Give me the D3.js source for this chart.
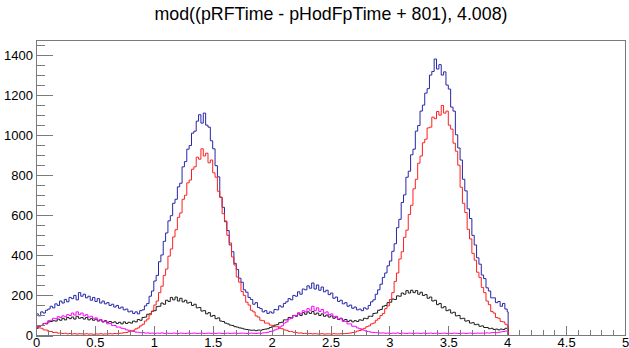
<!DOCTYPE html>
<html>
<head>
<meta charset="utf-8">
<script src="https://cdn.jsdelivr.net/npm/d3@7"></script>
<style>
  html, body { margin: 0; padding: 0; background: #fff; }
  svg { display: block; }
  text { font-family: "Liberation Sans", Arial, Helvetica, sans-serif; }
</style>
</head>
<body>
<div id="chart"></div>
<script>
// ---- data (bin width 0.02, first bin starts at 0; last bin 4.00–4.008) ----
const titleText = "mod((pRFTime - pHodFpTime + 801), 4.008)";
const binWidth = 0.02;
const histEnd = 4.008;
const xTickLabels = ["0", "0.5", "1", "1.5", "2", "2.5", "3", "3.5", "4", "4.5", "5"];
const yTickLabels = ["0", "200", "400", "600", "800", "1000", "1200", "1400"];

const blueCounts = [
  108, 98, 118, 112, 126, 132, 146, 138, 158, 150,
  172, 162, 180, 168, 190, 184, 200, 178, 214, 196,
  206, 188, 196, 176, 190, 170, 184, 162, 172, 158,
  164, 150, 156, 142, 150, 136, 142, 128, 132, 118,
  122, 110, 118, 108, 124, 128, 148, 160, 196, 222,
  272, 300, 368, 402, 470, 512, 572, 598, 660, 680,
  742, 760, 842, 868, 930, 948, 1010, 1020, 1070, 1102,
  1060, 1110, 1050, 1040, 972, 932, 848, 792, 690, 640,
  568, 524, 452, 418, 360, 330, 286, 266, 228, 216,
  190, 180, 156, 164, 140, 134, 118, 124, 110, 118,
  112, 130, 128, 148, 142, 160, 168, 184, 178, 200,
  196, 218, 206, 232, 228, 248, 236, 262, 232, 252,
  226, 242, 218, 226, 204, 212, 186, 192, 170, 176,
  158, 164, 146, 152, 136, 142, 128, 132, 124, 138,
  132, 150, 168, 178, 206, 228, 256, 290, 312, 348,
  372, 420, 458, 538, 580, 664, 702, 790, 820, 902,
  930, 1020, 1048, 1120, 1150, 1210, 1232, 1300, 1318, 1380,
  1330, 1352, 1300, 1316, 1250, 1230, 1140, 1120, 1002, 936,
  876, 780, 722, 632, 584, 500, 452, 388, 356, 302,
  284, 238, 222, 188, 188, 164, 170, 146, 160, 132,
  118
];

const redCounts = [
  44, 38, 36, 28, 27, 21, 20, 15, 16, 12,
  12, 10, 11, 8, 10, 8, 9, 7, 9, 8,
  7, 9, 7, 8, 6, 8, 7, 9, 7, 8,
  8, 9, 8, 10, 9, 11, 12, 14, 15, 19,
  23, 26, 33, 38, 48, 56, 72, 82, 104, 120,
  152, 172, 214, 246, 300, 332, 396, 432, 492, 528,
  590, 612, 680, 700, 762, 776, 830, 842, 890, 880,
  932, 896, 910, 862, 876, 812, 790, 720, 690, 608,
  572, 500, 462, 392, 352, 292, 266, 220, 200, 166,
  152, 126, 118, 98, 92, 76, 74, 62, 62, 52,
  50, 44, 44, 36, 34, 28, 26, 20, 20, 16,
  15, 12, 13, 10, 11, 9, 10, 8, 9, 8,
  8, 9, 7, 8, 8, 7, 9, 8, 8, 9,
  9, 10, 11, 12, 15, 17, 22, 25, 32, 36,
  44, 48, 58, 62, 76, 84, 100, 110, 134, 148,
  180, 214, 270, 312, 382, 418, 490, 526, 604, 650,
  732, 780, 860, 896, 962, 980, 1036, 1040, 1090, 1082,
  1118, 1100, 1148, 1110, 1120, 1050, 1030, 960, 920, 850,
  740, 660, 614, 530, 482, 410, 376, 316, 290, 240,
  214, 172, 154, 120, 112, 90, 86, 70, 68, 56,
  48
];

const blackCounts = [
  36, 46, 50, 60, 58, 68, 70, 74, 72, 82,
  76, 86, 78, 90, 84, 92, 82, 96, 86, 90,
  82, 90, 78, 84, 76, 82, 72, 78, 68, 74,
  66, 70, 64, 68, 60, 66, 58, 68, 60, 66,
  62, 72, 68, 80, 76, 90, 92, 106, 108, 122,
  124, 144, 146, 162, 156, 176, 170, 190, 178, 192,
  172, 186, 168, 176, 162, 166, 150, 156, 138, 140,
  122, 124, 108, 114, 96, 100, 84, 88, 72, 70,
  62, 58, 52, 50, 44, 42, 38, 36, 32, 30,
  28, 26, 27, 24, 27, 26, 30, 32, 34, 40,
  44, 52, 54, 64, 66, 78, 78, 90, 88, 100,
  96, 108, 100, 114, 106, 118, 110, 120, 106, 112,
  100, 108, 96, 102, 92, 98, 86, 92, 80, 86,
  76, 80, 70, 76, 68, 74, 70, 78, 76, 86,
  84, 96, 96, 110, 112, 126, 130, 146, 150, 164,
  166, 182, 180, 198, 196, 212, 206, 224, 212, 226,
  214, 224, 206, 216, 200, 204, 186, 192, 172, 176,
  154, 160, 138, 144, 124, 128, 112, 116, 98, 100,
  84, 86, 72, 74, 62, 64, 54, 56, 46, 48,
  40, 40, 34, 36, 30, 32, 28, 32, 30, 36,
  38
];

const magentaCounts = [
  40, 48, 50, 60, 62, 74, 76, 86, 84, 94,
  90, 98, 94, 104, 100, 112, 102, 118, 104, 112,
  98, 104, 92, 96, 86, 88, 76, 80, 68, 70,
  58, 60, 50, 50, 42, 42, 36, 34, 28, 26,
  22, 20, 17, 16, 14, 15, 12, 13, 11, 12,
  10, 12, 11, 13, 10, 12, 11, 10, 12, 11,
  10, 12, 11, 10, 12, 10, 11, 12, 10, 11,
  12, 10, 11, 12, 10, 11, 10, 12, 11, 10,
  11, 12, 10, 11, 12, 10, 11, 12, 11, 10,
  11, 12, 11, 10, 12, 11, 13, 14, 16, 20,
  22, 28, 32, 42, 48, 62, 68, 82, 86, 100,
  100, 114, 108, 124, 118, 134, 126, 146, 124, 138,
  120, 130, 112, 118, 104, 108, 94, 96, 82, 84,
  70, 70, 58, 58, 46, 46, 38, 34, 28, 26,
  20, 19, 16, 15, 14, 13, 12, 13, 11, 12,
  10, 12, 11, 13, 10, 12, 11, 10, 12, 11,
  10, 12, 11, 10, 12, 10, 11, 12, 10, 11,
  12, 10, 11, 12, 10, 11, 10, 12, 11, 10,
  11, 12, 10, 11, 12, 10, 11, 12, 11, 12,
  12, 13, 12, 14, 15, 14, 16, 18, 20, 22,
  24
];

// ---- layout ----
const W = 629, H = 348;
const padL = 36, padR = 625, padT = 40, padB = 335.5;

const svg = d3.select("#chart").append("svg")
  .attr("width", W).attr("height", H);

const x = d3.scaleLinear().domain([0, 5]).range([padL, padR]);
const y = d3.scaleLinear().domain([0, 1475]).range([padB, padT]);

// title
svg.append("text")
  .attr("x", 331).attr("y", 20)
  .attr("text-anchor", "middle")
  .attr("font-size", 17.8)
  .attr("fill", "#000")
  .text(titleText);

// histograms
function histPoints(counts) {
  const pts = counts.map((c, i) => [i * binWidth, c]);
  pts.push([histEnd, 0]);
  pts.push([5, 0]);
  return pts;
}
const line = d3.line()
  .x(d => x(d[0]))
  .y(d => y(d[1]))
  .curve(d3.curveStepAfter);

const series = [
  { counts: blueCounts, color: "#2626a8" },
  { counts: blackCounts, color: "#1a1a1a" },
  { counts: magentaCounts, color: "#ff00ff" },
  { counts: redCounts, color: "#ff1f1f" }
];
series.forEach(s => {
  svg.append("path")
    .attr("d", line(histPoints(s.counts)))
    .attr("fill", "none")
    .attr("stroke", s.color)
    .attr("stroke-width", 1);
});

// frame
svg.append("rect")
  .attr("x", padL).attr("y", padT)
  .attr("width", padR - padL).attr("height", padB - padT)
  .attr("fill", "none")
  .attr("stroke", "#7a7a7a")
  .attr("stroke-width", 1)
  .attr("shape-rendering", "crispEdges");

// x axis (major ticks inward)
const xMajor = xTickLabels.map(Number);
svg.append("g")
  .attr("transform", `translate(0,${padB})`)
  .call(d3.axisBottom(x).tickValues(xMajor).tickSize(-9.5).tickPadding(2)
    .tickFormat((d, i) => xTickLabels[i]));
const xMinor = d3.range(0, 51).map(i => i / 10).filter(v => Math.abs(v * 2 - Math.round(v * 2)) > 1e-6);
svg.append("g")
  .attr("transform", `translate(0,${padB})`)
  .call(d3.axisBottom(x).tickValues(xMinor).tickSize(-5.5).tickFormat(""));

// y axis (major ticks inward)
const yMajor = yTickLabels.map(Number);
svg.append("g")
  .attr("transform", `translate(${padL},0)`)
  .call(d3.axisLeft(y).tickValues(yMajor).tickSize(-17).tickPadding(3)
    .tickFormat((d, i) => yTickLabels[i]));
const yMinor = d3.range(50, 1475, 50).filter(v => v % 200 !== 0);
svg.append("g")
  .attr("transform", `translate(${padL},0)`)
  .call(d3.axisLeft(y).tickValues(yMinor).tickSize(-9).tickFormat(""));

svg.selectAll(".domain").remove();
svg.selectAll(".tick line").attr("stroke", "#7a7a7a").attr("shape-rendering", "crispEdges");
svg.selectAll(".tick text")
  .attr("font-size", 13)
  .attr("fill", "#000")
  .attr("font-family", "'Liberation Sans', Arial, Helvetica, sans-serif");
</script>
</body>
</html>
